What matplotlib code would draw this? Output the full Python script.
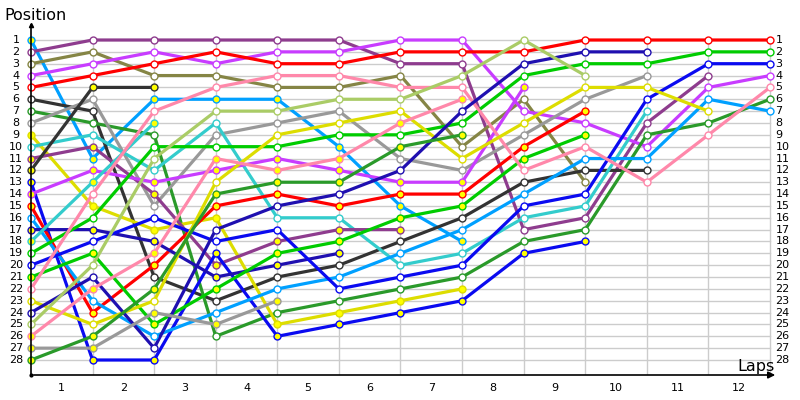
import matplotlib.pyplot as plt

laps = list(range(13))
lap_labels = [str(i) for i in range(1, 13)]
positions = list(range(1, 29))

# position at the end of each lap (index 0 = grid); list ends when the car retires
lblue_y = [1, 11, 6, 6, 6, 10, 15, 18]
purple_w = [2, 1, 1, 1, 1, 1, 3, 3, 17, 16, 8, 4]
olive_w = [3, 2, 4, 4, 5, 5, 4, 10, 6, 13]
violet_w = [4, 3, 2, 3, 2, 2, 1, 1, 7, 8, 10, 5, 4]
red_w = [5, 4, 3, 2, 3, 3, 2, 2, 2, 1, 1, 1, 1]
black_w = [6, 7, 21, 23, 21, 20, 18, 16, 13, 12, 12]
dgreen_w = [7, 8, 9, 26, 24, 23, 22, 21, 18, 17, 9, 8, 6]
gray_w = [8, 6, 15, 9, 8, 7, 11, 12, 9, 6, 4]
yellow_y = [9, 15, 17, 16, 25, 24, 23, 22]
turq_w = [10, 9, 12, 8, 16, 16, 20, 19, 16, 15, 7]
purple_y = [11, 10, 14, 20, 18, 17, 17]
black_y = [12, 5, 5]
blue_y = [13, 28, 28, 19, 26, 25, 24, 23, 19, 18]
violet_y = [14, 12, 13, 12, 11, 12, 13, 13, 5]
red_y = [15, 24, 20, 15, 14, 15, 14, 14, 10, 7]
lblue_w = [16, 23, 26, 24, 22, 21, 19, 17, 14, 11, 11, 6, 7]
navy_y = [17, 17, 18, 21, 20, 19]
turq_y = [18, 13, 8]
green_w = [19, 16, 10, 10, 10, 9, 9, 8, 4, 3, 3, 2, 2]
blue_w = [20, 18, 16, 18, 17, 22, 21, 20, 15, 14, 6, 3, 3]
green_y = [21, 19, 25, 22, 19, 18, 16, 15, 11, 9]
pink_w = [22, 14, 7, 5, 4, 4, 5, 5, 12, 10, 13, 9, 5]
yellow_w = [23, 25, 23, 13, 9, 8, 7, 11, 8, 5, 5, 7]
navy_w = [24, 21, 27, 17, 15, 14, 12, 7, 3, 2, 2]
lgreen_w = [25, 20, 11, 7, 7, 6, 6, 4, 1, 4]
pink_y = [26, 22, 19, 11, 12, 11, 8, 6]
gray_y = [27, 27, 24, 25, 23]
dgreen_y = [28, 26, 22, 14, 13, 13, 10, 9]

# (data, line colour, marker fill)
cars = [
    (lblue_y, '#00a0ff', 'y'), (purple_w, '#8e3c8e', 'w'), (olive_w, '#858545', 'w'),
    (violet_w, '#c83cff', 'w'), (red_w, '#ff0000', 'w'), (black_w, '#333333', 'w'),
    (dgreen_w, '#2a9a2a', 'w'), (gray_w, '#999999', 'w'), (yellow_y, '#dddd00', 'y'),
    (turq_w, '#33cccc', 'w'), (purple_y, '#8e3c8e', 'y'), (black_y, '#333333', 'y'),
    (blue_y, '#0a0af0', 'y'), (violet_y, '#c83cff', 'y'), (red_y, '#ff0000', 'y'),
    (lblue_w, '#00a0ff', 'w'), (navy_y, '#1f0fb0', 'y'), (turq_y, '#33cccc', 'y'),
    (green_w, '#00cc00', 'w'), (blue_w, '#0a0af0', 'w'), (green_y, '#00cc00', 'y'),
    (pink_w, '#ff88aa', 'w'), (yellow_w, '#dddd00', 'w'), (navy_w, '#1f0fb0', 'w'),
    (lgreen_w, '#aacc66', 'w'), (pink_y, '#ff88aa', 'y'), (gray_y, '#999999', 'y'),
    (dgreen_y, '#2a9a2a', 'y'),
]

fig = plt.figure(figsize=(8, 4), dpi=100)
ax = fig.add_axes([31 / 800, 25 / 400, 747 / 800, 350 / 400])
xmax = 12 + 8 / 61.58
ybot = 28 + 15 / 11.85
ytop = 1 - 15 / 11.85
ax.set_xlim(0, xmax)
ax.set_ylim(ybot, ytop)
ax.axis('off')

# grid
for p in positions:
    ax.plot([0, 12], [p, p], color='#cccccc', lw=1, zorder=1)
for l in laps[1:]:
    ax.plot([l, l], [1, ybot], color='#cccccc', lw=1, zorder=1)

# axes with arrows
ax.plot([0, 0], [ybot, ytop], color='black', lw=1.2, zorder=5, clip_on=False)
ax.plot([0], [ytop], marker='^', color='black', ms=3, zorder=5, clip_on=False)
ax.annotate('', xy=(xmax, ybot), xytext=(0, ybot),
            arrowprops=dict(arrowstyle='-|>', color='black', lw=1.2, mutation_scale=10),
            annotation_clip=False, zorder=5)
ax.plot([0], [ybot], marker='o', color='black', ms=2, zorder=5, clip_on=False)

# lines first, markers on top
for data, col, fill in cars:
    ax.plot(laps[:len(data)], data, color=col, lw=2.3, zorder=2, solid_capstyle='round')
for data, col, fill in cars:
    face = '#ffff00' if fill == 'y' else 'white'
    ax.plot(laps[:len(data)], data, ls='none', marker='o', ms=5, mfc=face,
            mec=col, mew=1, zorder=3, clip_on=False)

for p in positions:
    ax.text(-0.244, p, str(p), ha='center', va='center', fontsize=8, clip_on=False)
    ax.text(12.09, p, str(p), ha='left', va='center', fontsize=8, clip_on=False)

for i, lab in enumerate(lap_labels):
    ax.text(i + 0.5, 30.37, lab, ha='center', va='center', fontsize=8, clip_on=False)

fig.text(4 / 800, 1 - 15 / 400, 'Position', ha='left', va='center', fontsize=11.5)
fig.text(775 / 800, 1 - 371 / 400, 'Laps', ha='right', va='baseline', fontsize=11.5)

fig.savefig('out.png', dpi=100)
